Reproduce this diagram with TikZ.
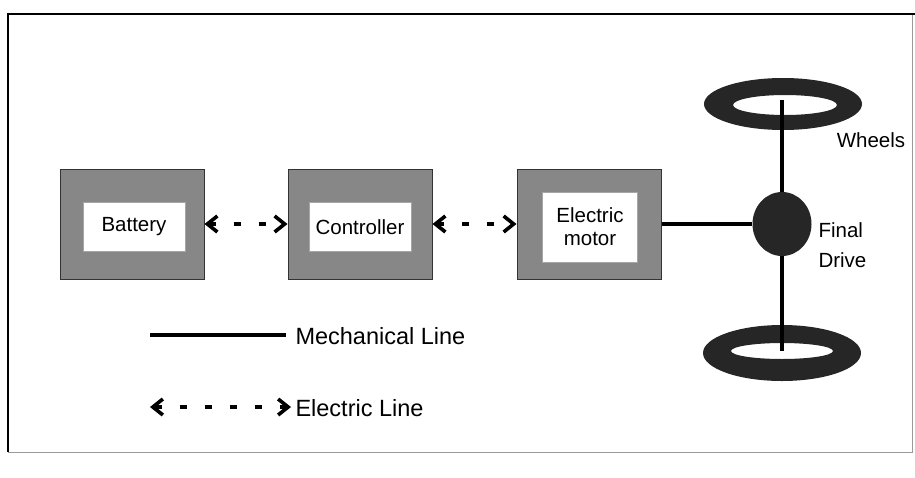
\documentclass[tikz,border=0pt]{standalone}
\usepackage{fontspec}
\setmainfont{Liberation Sans}
\usetikzlibrary{arrows.meta, shapes.geometric}

\definecolor{boxgray}{RGB}{135,135,135}
\definecolor{ringdark}{RGB}{38,38,38}

\begin{document}
\begin{tikzpicture}[
  x=1pt, y=-1pt,
  font=\fontsize{20.5}{23}\selectfont,
  outerbox/.style={
    draw=black!80, line width=1pt, fill=boxgray,
    minimum width=144pt, minimum height=110pt
  },
  innerbox/.style={
    draw=black!35, line width=0.6pt, fill=white,
    minimum width=102pt, minimum height=49pt, align=center, inner sep=0pt
  },
  mech/.style={line width=4.5pt, black},
  elec/.style={
    line width=3.4pt, dash pattern=on 7pt off 18pt,
    {Straight Barb[length=10pt, width=16pt, line width=3.6pt]}-{Straight Barb[length=10pt, width=16pt, line width=3.6pt]}
  },
  legend/.style={anchor=west, font=\fontsize{23.5}{27}\selectfont},
  wheel/.style={fill=ringdark, even odd rule}
]
\useasboundingbox (0,0) rectangle (915,477);

% Frame
\draw[black!40, line width=0.6pt] (8,14) rectangle (912,452);
\draw[line width=2.4pt] (8,452) -- (8,14) -- (915,14);

% Blocks
\node[outerbox] (batt) at (132,224) {};
\node[innerbox] (battin) at (134,227) {Battery};
\node[outerbox] (ctrl) at (360,224) {};
\node[innerbox] (ctrlin) at (360,227) {Controller};
\node[outerbox] (motor) at (589,224) {};
\node[innerbox, minimum width=95pt, minimum height=70pt] (motorin) at (590,227) {Electric\\motor};

% Electric connections
\draw[elec] (batt.east) -- (ctrl.west);
\draw[elec] (ctrl.east) -- (motor.west);

% Wheels and shaft
\coordinate (wtop) at (782,100);
\coordinate (wbot) at (782,351);
\fill[wheel] (783,104) ellipse [x radius=79, y radius=26]
             (785,105) ellipse [x radius=52, y radius=10];
\fill[wheel] (782,353) ellipse [x radius=79, y radius=28]
             (782,351) ellipse [x radius=51, y radius=8];
\draw[mech] (wtop) -- (wbot);

% Final drive
\node[ellipse, fill=ringdark, minimum width=59pt, minimum height=64pt, inner sep=0pt] (fd) at (782,224) {};
\draw[mech] (motor.east) -- (fd.west);

\node (wheels) at (871,140) {Wheels};
\node[anchor=west, align=left, font=\fontsize{20.5}{30}\selectfont] (final) at (815,245) {Final\\Drive};

% Legend
\coordinate (m1) at (150,335);
\coordinate (m2) at (286,335);
\draw[mech] (m1) -- (m2);
\node[legend] (mlab) at (292,336) {Mechanical Line};
\coordinate (e1) at (150,407);
\coordinate (e2) at (291,407);
\draw[elec] (e1) -- (e2);
\node[legend] (elab) at (292,408) {Electric Line};

\end{tikzpicture}
\end{document}
